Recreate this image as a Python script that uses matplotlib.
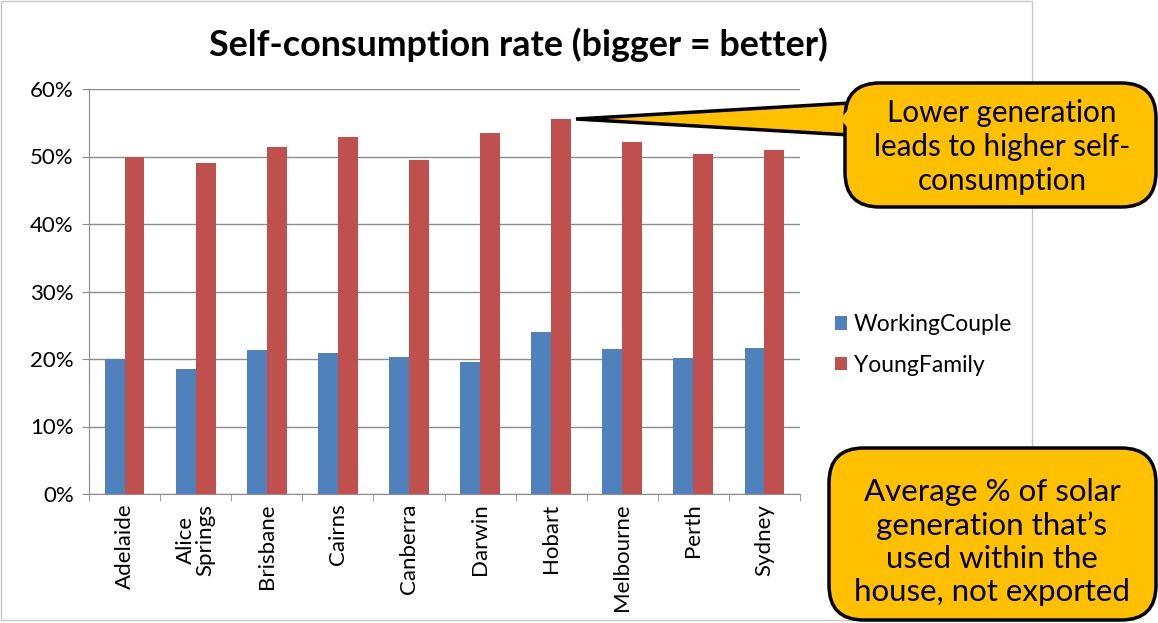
import matplotlib
matplotlib.use('Agg')
import matplotlib.pyplot as plt
from matplotlib.patches import FancyBboxPatch, Polygon, Rectangle
import numpy as np

# Data
cities = ['Adelaide', 'Alice\nSprings', 'Brisbane', 'Cairns', 'Canberra',
          'Darwin', 'Hobart', 'Melbourne', 'Perth', 'Sydney']
working_couple = [0.200, 0.185, 0.213, 0.209, 0.203, 0.196, 0.240, 0.215, 0.201, 0.217]
young_family = [0.500, 0.491, 0.514, 0.529, 0.495, 0.535, 0.555, 0.521, 0.503, 0.509]
series_names = ['WorkingCouple', 'YoungFamily']
y_ticks = [0, 0.1, 0.2, 0.3, 0.4, 0.5, 0.6]

BLUE = '#4F81BD'
RED = '#C0504D'
GRID = '#8c8c8c'
YELLOW = '#FFC000'
FONT = ['Lato', 'DejaVu Sans']

W, H = 1158, 623
plt.rcParams['font.family'] = FONT

fig = plt.figure(figsize=(W / 100, H / 100), dpi=100)
fig.patch.set_facecolor('white')


def fp(x, y):
    """pixel coords (top-left origin) -> figure fraction"""
    return x / W, 1 - y / H


# chart frame
fig.patches.append(Rectangle(fp(1, 620), 1031 / W, 619 / H, transform=fig.transFigure,
                             facecolor='none', edgecolor='#c8c8c8', lw=1, zorder=0))

ax = fig.add_axes([89 / W, 1 - 494 / H, (800 - 89) / W, (494 - 89) / H])
x = np.arange(len(cities))
bw = 0.28
ax.bar(x - bw / 2, working_couple, bw, color=BLUE, label=series_names[0], zorder=3)
ax.bar(x + bw / 2, young_family, bw, color=RED, label=series_names[1], zorder=3)

ax.set_xlim(-0.5, len(cities) - 0.5)
ax.set_ylim(0, 0.6)
ax.set_yticks(y_ticks)
ax.set_yticklabels([f'{int(round(v * 100))}%' for v in y_ticks], fontsize=16)
ax.yaxis.grid(True, color=GRID, lw=1)
ax.set_axisbelow(True)

ax.set_xticks(x)
ax.set_xticklabels(cities, rotation=90, fontsize=16, linespacing=1.0, ha='center', va='top')
ax.tick_params(axis='x', length=0, pad=7)
ax.set_xticks(np.arange(len(cities) + 1) - 0.5, minor=True)
ax.tick_params(axis='x', which='minor', length=5, color=GRID, direction='out')
ax.tick_params(axis='y', length=5, color=GRID, direction='out', pad=6)

for s in ['top', 'right']:
    ax.spines[s].set_visible(False)
for s in ['left', 'bottom']:
    ax.spines[s].set_color(GRID)

fig.text(518 / W, 1 - 45 / H, 'Self-consumption rate (bigger = better)',
         ha='center', va='center', fontsize=25.8, fontweight='bold')

leg = fig.legend(loc='upper left', bbox_to_anchor=fp(826, 305), frameon=False,
                 fontsize=16.5, handlelength=0.5, handleheight=0.5, handletextpad=0.3,
                 labelspacing=0.85, borderaxespad=0)

# callout 1 with pointer to the tallest bar
tail = Polygon([fp(850, 103), fp(576, 119), fp(850, 135)], closed=True,
               transform=fig.transFigure, facecolor=YELLOW, edgecolor='black', lw=2.5,
               joinstyle='miter', zorder=5)
fig.patches.append(tail)
box1 = FancyBboxPatch(fp(845, 207), (1156 - 845) / W, (207 - 83) / H,
                      boxstyle='round,pad=0,rounding_size=0.03',
                      transform=fig.transFigure, facecolor=YELLOW, edgecolor='black',
                      lw=2.5, zorder=6, mutation_aspect=W / H)
fig.patches.append(box1)
cover = Polygon([fp(852, 105.5), fp(840, 119), fp(852, 132.5)], closed=True,
                transform=fig.transFigure, facecolor=YELLOW, edgecolor='none', zorder=7)
fig.patches.append(cover)
fig.text(1002 / W, 1 - 147 / H, 'Lower generation\nleads to higher self-\nconsumption',
         ha='center', va='center', fontsize=21.3, linespacing=1.28, zorder=8)

# callout 2
box2 = FancyBboxPatch(fp(829, 620), (1156 - 829) / W, (620 - 448) / H,
                      boxstyle='round,pad=0,rounding_size=0.03',
                      transform=fig.transFigure, facecolor=YELLOW, edgecolor='black',
                      lw=2.5, zorder=6, mutation_aspect=W / H)
fig.patches.append(box2)
fig.text(992 / W, 1 - 542 / H,
         'Average % of solar\ngeneration that\u2019s\nused within the\nhouse, not exported',
         ha='center', va='center', fontsize=22.5, linespacing=1.22, zorder=8)

fig.savefig('out.png', dpi=100, facecolor='white')
